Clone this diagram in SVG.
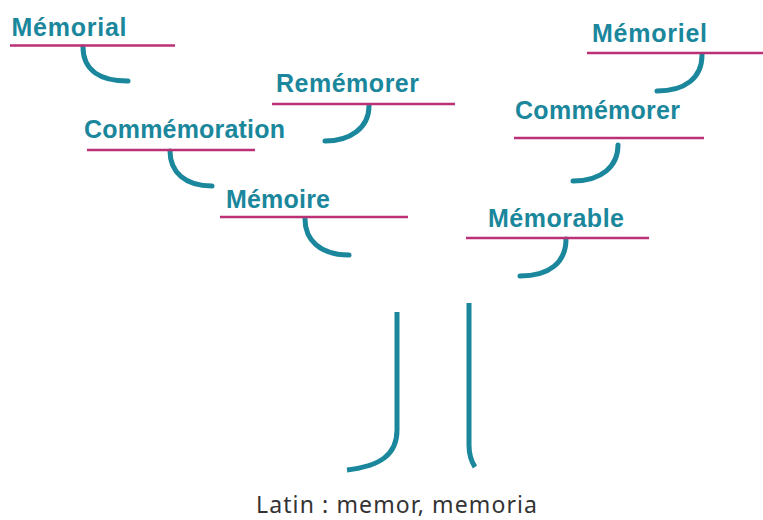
<svg xmlns="http://www.w3.org/2000/svg" width="763" height="520" viewBox="0 0 763 520">
<style>
.w{font-family:"Liberation Sans",Arial,sans-serif;font-weight:bold;font-size:25px;fill:#1b879c}
.u{stroke:#bc3176;stroke-width:2.5;fill:none}
.h{stroke:#1b879c;stroke-width:5;fill:none;stroke-linecap:round}
.lab{font-family:"Noto Sans","Liberation Sans",Arial,sans-serif;font-size:23px;fill:#333}
</style>
<rect width="763" height="520" fill="#fff"/>
<g id="connectors">
<path class="h" d="M83 47 C83 70 100 81 128 81"/>
<path class="h" d="M170 151 C170 172 185 186 212 186"/>
<path class="h" d="M369 106 C369 128 350 141 325 141"/>
<path class="h" d="M702 55 C702 78 685 91 657 91"/>
<path class="h" d="M618 145 C618 166 602 181 573 181"/>
<path class="h" d="M305 219 C305 240 320 255 349 255"/>
<path class="h" d="M566 239 C566 262 550 276 520 276"/>
<path class="h" d="M397 312 L397 430 C397 455 380 466 347 470" style="stroke-linecap:butt"/>
<path class="h" d="M469 303 L469 445 C469 455 471 461 475 467" style="stroke-linecap:butt"/>
</g>
<g id="memorial"><text class="w" x="11.5" y="36" textLength="115" lengthAdjust="spacing">Mémorial</text><line class="u" x1="10" y1="45.5" x2="175" y2="45.5"/></g>
<g id="commemoration"><text class="w" x="84" y="138" textLength="201" lengthAdjust="spacing">Commémoration</text><line class="u" x1="87" y1="150" x2="255" y2="150"/></g>
<g id="rememorer"><text class="w" x="276" y="92" textLength="143" lengthAdjust="spacing">Remémorer</text><line class="u" x1="272" y1="104" x2="455" y2="104"/></g>
<g id="memoriel"><text class="w" x="592" y="42" textLength="115" lengthAdjust="spacing">Mémoriel</text><line class="u" x1="587" y1="53" x2="763" y2="53"/></g>
<g id="commemorer"><text class="w" x="515" y="119" textLength="165" lengthAdjust="spacing">Commémorer</text><line class="u" x1="514" y1="138" x2="704" y2="138"/></g>
<g id="memoire"><text class="w" x="226" y="208" textLength="104" lengthAdjust="spacing">Mémoire</text><line class="u" x1="220" y1="217" x2="408" y2="217"/></g>
<g id="memorable"><text class="w" x="488" y="227" textLength="136" lengthAdjust="spacing">Mémorable</text><line class="u" x1="466" y1="238" x2="649" y2="238"/></g>
<g id="latin"><text class="lab" x="256" y="513" textLength="281" lengthAdjust="spacing">Latin : memor, memoria</text></g>
</svg>
